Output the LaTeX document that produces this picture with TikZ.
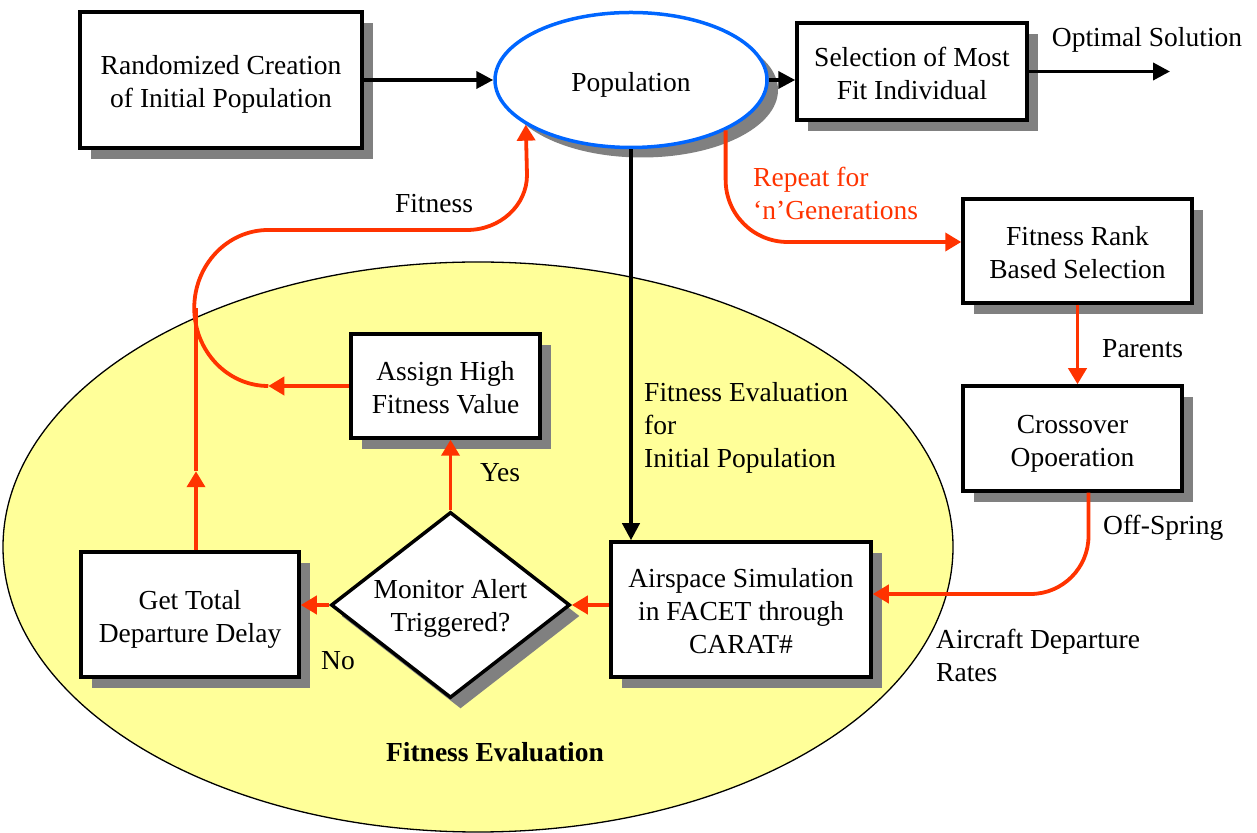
\documentclass[tikz,border=0pt]{standalone}
\usepackage{fontspec}
\setmainfont{Liberation Serif}
\usetikzlibrary{shapes.geometric,shadows,arrows.meta,calc}
\definecolor{ored}{RGB}{255,51,0}
\definecolor{pblue}{RGB}{0,102,255}
\definecolor{fyellow}{RGB}{255,255,153}
\definecolor{shgray}{RGB}{128,128,128}
\newcommand{\mytop}{\rule{0pt}{31pt}}
\newcommand{\mybot}{\rule[-8pt]{0pt}{8pt}}
\begin{document}
\begin{tikzpicture}[x=1pt,y=1pt,
  font=\fontsize{27.5}{33}\selectfont,
  shd/.style={general shadow={fill=shgray, shadow xshift=11pt, shadow yshift=-11pt}},
  box/.style={rectangle, draw=black, line width=3.5pt, fill=white, inner sep=0pt, align=center, shd},
  blk/.style={line width=3.8pt, draw=black, -{Triangle[length=17pt,width=17pt]}},
  redarr/.style={line width=3.8pt, draw=ored, -{Triangle[length=16pt,width=18pt]}},
  redln/.style={line width=3.8pt, draw=ored},
  lbl/.style={inner sep=0pt, align=left}
]
\useasboundingbox (0,0) rectangle (1257,832);

% background region
\node[ellipse, draw=black, line width=1.3pt, fill=fyellow, inner sep=0pt,
      minimum width=950pt, minimum height=570pt] (fe) at (478,285) {};
\node[font=\fontsize{27.5}{33}\selectfont\bfseries] (fetitle) at (495,80) {Fitness Evaluation};

% nodes
\node[box, minimum width=282pt, minimum height=136pt] (rand) at (221,752) {\mytop Randomized Creation\\of Initial Population\mybot};
\node[ellipse, draw=pblue, line width=3.5pt, fill=white, inner sep=0pt,
      minimum width=272pt, minimum height=135pt,
      general shadow={fill=shgray, shadow xshift=11pt, shadow yshift=-10pt}] (pop) at (631,752) {\mytop Population\mybot};
\node[box, minimum width=230pt, minimum height=97pt] (sel) at (912,760.5) {\mytop Selection of Most\\Fit Individual\mybot};
\node[box, minimum width=229pt, minimum height=104pt] (rank) at (1077.5,581) {\mytop Fitness Rank\\Based Selection\mybot};
\node[box, minimum width=219pt, minimum height=105pt] (cross) at (1072.5,393.5) {\mytop Crossover\\Opoeration\mybot};
\node[box, minimum width=260pt, minimum height=135pt] (air) at (741,222.5) {\mytop Airspace Simulation\\in FACET through\\CARAT\#\mybot};
\node[box, minimum width=218pt, minimum height=125pt] (tot) at (190,217.5) {\mytop Get Total\\Departure Delay\mybot};
\node[box, minimum width=189pt, minimum height=104pt] (asg) at (445.5,446) {\mytop Assign High\\Fitness Value\mybot};
\node[diamond, draw=black, line width=3.5pt, fill=white, inner sep=0pt,
      minimum width=239pt, minimum height=186pt,
      general shadow={fill=shgray, shadow xshift=10pt, shadow yshift=-11pt}] (dia) at (450.5,227) {};
\node[align=center, inner sep=0pt] (diatext) at (450.5,224) {Monitor Alert\\Triggered?};

% labels
\node (optlbl) at (1147,792) {Optimal Solution};
\node (fitlbl) at (434,628) {Fitness};
\node[lbl, anchor=west, text=ored] (replbl) at (753,639) {Repeat for\\‘n’Generations};
\node[lbl, anchor=west] (parlbl) at (1102,483) {Parents};
\node[lbl, anchor=west] (offlbl) at (1103,304) {Off-Spring};
\node[lbl, anchor=west] (acdlbl) at (936,177) {Aircraft Departure\\Rates};
\node[lbl, anchor=west] (fel) at (644,404) {Fitness Evaluation\\for\\Initial Population};
\node (nolbl) at (338,171) {No};
\node (yeslbl) at (500,359) {Yes};

% black connectors
\draw[blk] (rand.east) -- (pop.west);
\draw[blk] (pop.east) -- (pop.east -| sel.west);
\coordinate (optend) at (1170,760.5);
\draw[blk] (sel.east) -- (optend);
\draw[blk] (pop.south) -- (pop.south |- air.north);

% red connectors
\draw[redarr, rounded corners=62pt] (pop.-28) |- ([yshift=9pt]rank.west);
\draw[redarr] (rank.south) -- (rank.south |- cross.north);
\draw[redarr, rounded corners=58pt] ([xshift=16pt]cross.south) |- ([yshift=15.5pt]air.east);
\draw[redarr] (air.west |- dia.east) -- (dia.east);
\draw[redarr] (dia.west) -- (dia.west -| tot.east);
\draw[redarr] (dia.north) -- (dia.north |- asg.south);

\coordinate (asgtip) at ($(asg.west)+(-81,0)$);
\draw[redarr] (asg.west) -- (asgtip);
\coordinate (totup) at ($(tot.north)+(6,79)$);
\draw[redarr] ([xshift=6pt]tot.north) -- (totup);
\draw[redln] (totup) -- (196,524);
\draw[redarr] (asgtip) arc[start angle=270, end angle=90, x radius=74, y radius=78]
  -- (467,602) arc[start angle=270, end angle=360, x radius=60, y radius=55]
  -- (pop.203);
\end{tikzpicture}
\end{document}
